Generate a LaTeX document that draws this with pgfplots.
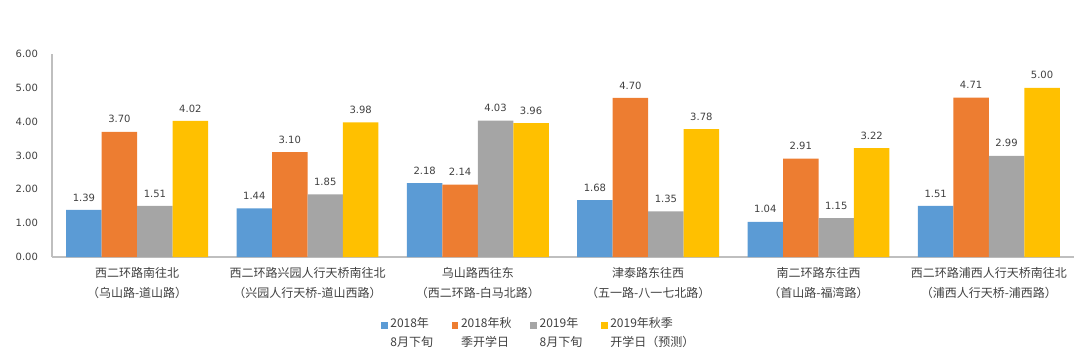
\documentclass[border=0pt]{standalone}
\usepackage{fontspec}
\setmainfont{Noto Sans CJK SC}
\newfontfamily\numfont{DejaVu Sans}
\usepackage{pgfplots}
\pgfplotsset{compat=1.18}
\definecolor{cblue}{HTML}{5B9BD5}
\definecolor{corange}{HTML}{ED7D31}
\definecolor{cgray}{HTML}{A5A5A5}
\definecolor{cyellow}{HTML}{FFC000}
\definecolor{axgray}{HTML}{BFBFBF}
\definecolor{txt}{HTML}{404040}
\begin{document}
\begin{tikzpicture}
\useasboundingbox (0pt,0pt) rectangle (810pt,270.75pt);
\begin{axis}[
  at={(39pt,78pt)}, anchor=south west,
  scale only axis, width=766.5pt, height=152.25pt,
  xmin=-0.5, xmax=5.5, ymin=0, ymax=6,
  ytick={0,1,2,3,4,5,6},
  yticklabel style={/pgf/number format/fixed, /pgf/number format/zerofill, /pgf/number format/precision=2, /pgf/number format/assume math mode=true, font=\numfont\fontsize{7.5}{9}\selectfont, text=txt, xshift=-7pt},
  xtick={0,1,2,3,4,5},
  xticklabels={{西二环路南往北\\（乌山路-道山路）},{西二环路兴园人行天桥南往北\\（兴园人行天桥-道山西路）},{乌山路西往东\\（西二环路-白马北路）},{津泰路东往西\\（五一路-八一七北路）},{南二环路东往西\\（首山路-福湾路）},{西二环路浦西人行天桥南往北\\（浦西人行天桥-浦西路）}},
  xticklabel style={align=center, font=\fontsize{9}{15}\selectfont, text=txt},
  axis x line*=bottom, axis y line*=left,
  axis line style={draw=axgray, line width=0.8pt},
  tick style={draw=none},
  ybar=0pt, bar width=26.6pt,
  nodes near coords={\pgfmathprintnumber[fixed,zerofill,precision=2,assume math mode=true]{\pgfplotspointmeta}},
  every node near coord/.append style={font=\numfont\fontsize{7.5}{9}\selectfont, text=txt, yshift=3pt},
  legend columns=4,
  legend style={at={(0.4765,-0.374)}, anchor=center, draw=none, font=\fontsize{9}{14}\selectfont, text=txt,
    cells={anchor=west, align=left},
    /tikz/every even column/.append style={column sep=12pt}},
  legend image code/.code={\fill[#1] (0pt,3pt) rectangle (5pt,8pt);},
]
\addplot[fill=cblue, draw=none] coordinates {(0,1.39) (1,1.44) (2,2.18) (3,1.68) (4,1.04) (5,1.51)};
\addplot[fill=corange, draw=none] coordinates {(0,3.70) (1,3.10) (2,2.14) (3,4.70) (4,2.91) (5,4.71)};
\addplot[fill=cgray, draw=none] coordinates {(0,1.51) (1,1.85) (2,4.03) (3,1.35) (4,1.15) (5,2.99)};
\addplot[fill=cyellow, draw=none] coordinates {(0,4.02) (1,3.98) (2,3.96) (3,3.78) (4,3.22) (5,5.00)};
\legend{{2018年\\8月下旬},{2018年秋\\季开学日},{2019年\\8月下旬},{2019年秋季\\开学日（预测）}}
\end{axis}
\end{tikzpicture}
\end{document}
